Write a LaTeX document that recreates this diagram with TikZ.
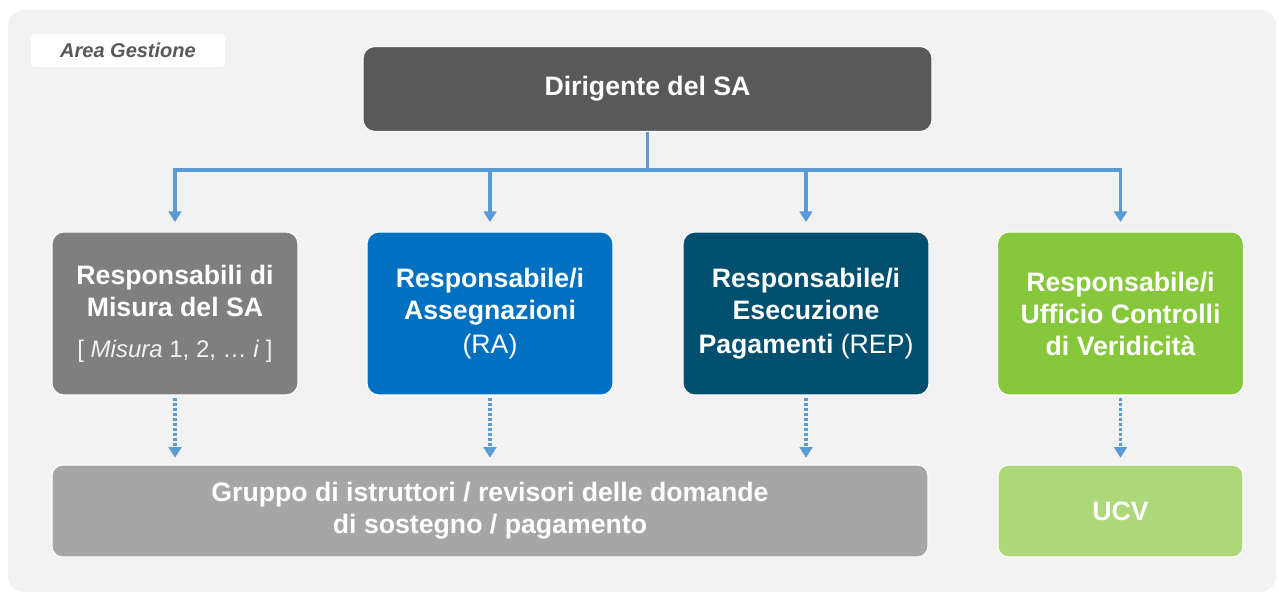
\documentclass[tikz,border=0pt]{standalone}
\usepackage{fontspec}
\setmainfont{Liberation Sans}
\usetikzlibrary{calc, positioning, arrows.meta}

\definecolor{areaBg}{HTML}{F2F2F2}
\definecolor{headGray}{HTML}{595959}
\definecolor{misGray}{HTML}{7F7F7F}
\definecolor{raBlue}{HTML}{0070C0}
\definecolor{repTeal}{HTML}{004F6E}
\definecolor{ucvGreen}{HTML}{86C73C}
\definecolor{ucvLight}{HTML}{ADD87A}
\definecolor{grpGray}{HTML}{A6A6A6}
\definecolor{linkBlue}{HTML}{5B9BD5}

\begin{document}
\begin{tikzpicture}[
    x=0.75pt, y=-0.75pt,
    >={Triangle[width=9.5pt,length=8pt]},
    font=\fontsize{20}{24}\selectfont\bfseries,
    box/.style={draw=white, line width=0.8pt, rounded corners=9pt, text=white, align=center, inner sep=0pt},
    resp/.style={box, minimum width=184.5pt, minimum height=122.25pt},
    low/.style={box, minimum height=69pt, rounded corners=8pt},
    link/.style={linkBlue, line width=2.4pt, shorten >=7pt},
    dots/.style={linkBlue, line width=2.6pt, dash pattern=on 2.2pt off 1.5pt, shorten <=2pt, shorten >=5pt}
]
    \useasboundingbox (0,0) rectangle (1279,595);

    % grey area
    \fill[areaBg, rounded corners=12pt] (8,10) rectangle (1276,592);
    \node[fill=white, rounded corners=3pt, minimum width=145.5pt, minimum height=24.75pt, inner sep=0pt,
          text=headGray, font=\fontsize{15}{17}\selectfont\bfseries\itshape] (area) at (128,50.5) {Area Gestione};

    % head
    \node[box, fill=headGray, minimum width=426.75pt, minimum height=63.75pt] (dir) at (647.5,89) {Dirigente del SA};

    % responsabili
    \node[resp, fill=misGray] (resp1) at (175,313.5)
        {Responsabili di\\Misura del SA\\[7pt]{\mdseries\fontsize{18}{24}\selectfont\color{areaBg}[ \textit{Misura} 1, 2, \dots\ \textit{i} ]}};
    \node[resp, fill=raBlue] (resp2) at (490,313.5)
        {Responsabile/i\\Assegnazioni\\[1pt]{\mdseries (RA)}};
    \node[resp, fill=repTeal] (resp3) at (806,313.5)
        {Responsabile/i\\Esecuzione\\[1pt]Pagamenti {\mdseries (REP)}};
    \node[resp, fill=ucvGreen] (resp4) at (1120.5,313.5)
        {Responsabile/i\\Ufficio Controlli\\di Veridicità};

    % gruppi
    \node[low, fill=grpGray, minimum width=657pt] (grp) at (490,511)
        {Gruppo di istruttori / revisori delle domande\\di sostegno / pagamento};
    \node[low, fill=ucvLight, minimum width=183.75pt] (ucv) at (1120.5,511) {UCV};

    % connectors
    \coordinate (bus) at ($(dir.south)+(0,38)$);
    \draw[link, shorten >=0pt] (dir.south) -- (bus);
    \foreach \n in {resp1,resp2,resp3,resp4}
        \draw[link,->] (bus) -| (\n.north);
    \foreach \a/\b in {resp1/grp,resp2/grp,resp3/grp,resp4/ucv}
        \draw[dots,->] (\a.south) -- (\a.south |- \b.north);

\end{tikzpicture}
\end{document}
